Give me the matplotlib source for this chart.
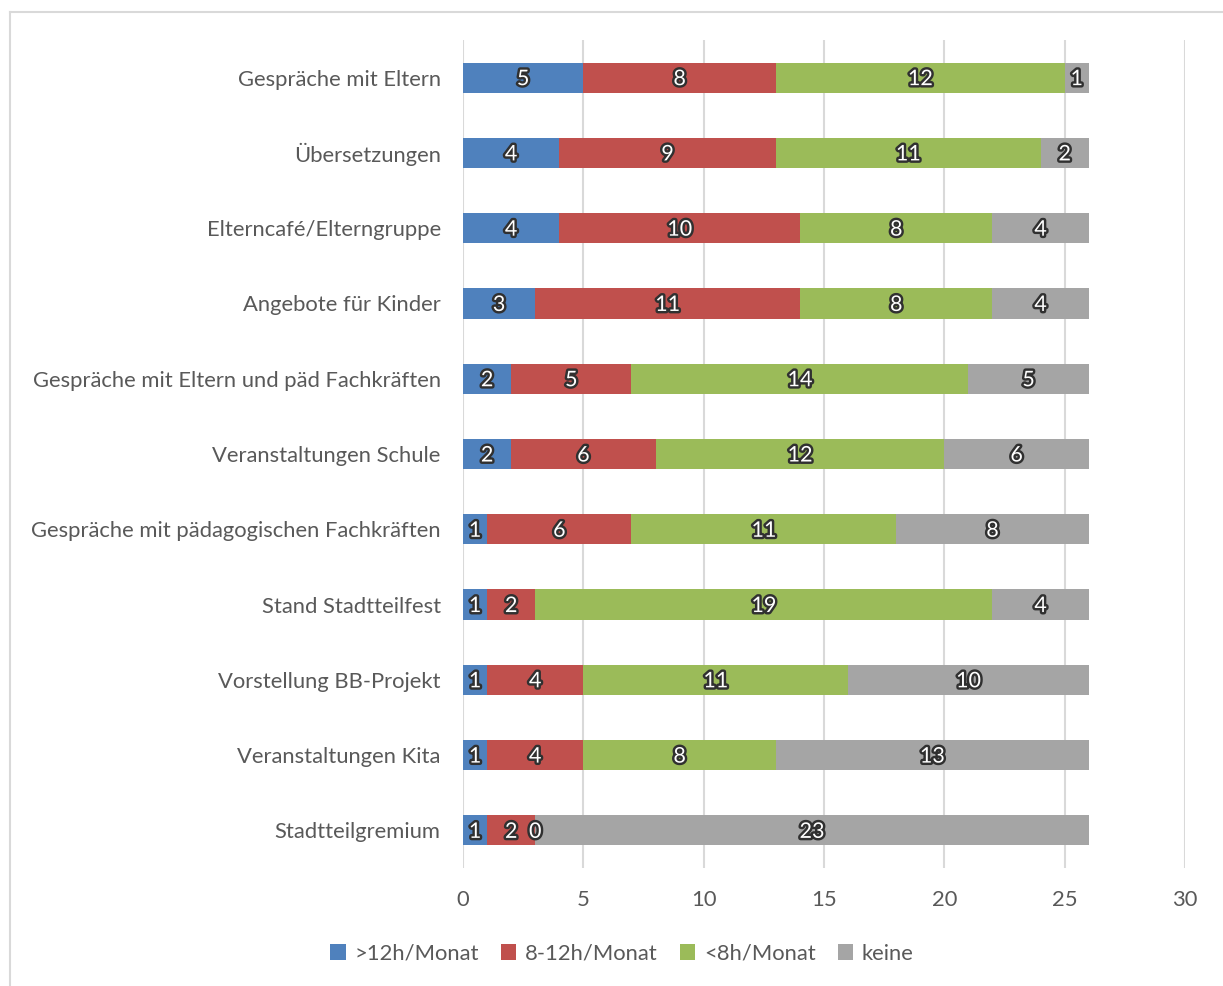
import numpy as np
import matplotlib.pyplot as plt
import matplotlib.patheffects as pe

plt.rcParams['font.family'] = ['Lato', 'DejaVu Sans']

categories = [
    'Gespräche mit Eltern',
    'Übersetzungen',
    'Elterncafé/Elterngruppe',
    'Angebote für Kinder',
    'Gespräche mit Eltern und päd Fachkräften',
    'Veranstaltungen Schule',
    'Gespräche mit pädagogischen Fachkräften',
    'Stand Stadtteilfest',
    'Vorstellung BB-Projekt',
    'Veranstaltungen Kita',
    'Stadtteilgremium',
]
over12 = [5, 4, 4, 3, 2, 2, 1, 1, 1, 1, 1]
h8to12 = [8, 9, 10, 11, 5, 6, 6, 2, 4, 4, 2]
under8 = [12, 11, 8, 8, 14, 12, 11, 19, 11, 8, 0]
keine = [1, 2, 4, 4, 5, 6, 8, 4, 10, 13, 23]

series = [('>12h/Monat', over12, '#4F81BD'),
          ('8-12h/Monat', h8to12, '#C0504D'),
          ('<8h/Monat', under8, '#9BBB59'),
          ('keine', keine, '#A5A5A5')]

fig = plt.figure(figsize=(12.23, 9.86), dpi=100)
ax = fig.add_axes([463 / 1223, 1 - 868 / 986, (1185 - 463) / 1223, (868 - 40) / 986])

# border around the chart (only left and top visible)
fig.add_artist(plt.Line2D([10 / 1223, 10 / 1223], [0, 1 - 12 / 986], transform=fig.transFigure,
                          color='#D9D9D9', lw=1.5))
fig.add_artist(plt.Line2D([10 / 1223, 1], [1 - 12 / 986, 1 - 12 / 986], transform=fig.transFigure,
                          color='#D9D9D9', lw=1.5))

y = np.arange(len(categories))
left = np.zeros(len(categories))
outline = [pe.withStroke(linewidth=3.5, foreground='#303030')]
for name, vals, col in series:
    vals = np.array(vals)
    ax.barh(y, vals, left=left, height=0.4, color=col, label=name, zorder=3)
    for yi, l, v in zip(y, left, vals):
        ax.text(l + v / 2, yi + 0.02, str(v), ha='center', va='center', fontsize=15.5,
                color='white', path_effects=outline, zorder=4)
    left += vals

ax.set_xlim(0, 30)
ax.set_ylim(len(categories) - 0.5, -0.5)
ax.set_xticks(range(0, 31, 5))
ax.set_yticks(y)
ax.set_yticklabels(categories)
ax.xaxis.grid(True, color='#D9D9D9', lw=1.5, zorder=0)
for s in ax.spines.values():
    s.set_visible(False)
ax.tick_params(length=0, labelsize=15.8, colors='#595959')
ax.tick_params(axis='y', pad=16)
ax.tick_params(axis='x', pad=16)

ax.legend(loc='center', bbox_to_anchor=(0.2202, -0.1036), ncol=4, frameon=False,
          fontsize=15.8, labelcolor='#595959', handlelength=0.7, handleheight=0.7,
          handletextpad=0.4, columnspacing=1.0)

fig.savefig('out.png', dpi=100)
